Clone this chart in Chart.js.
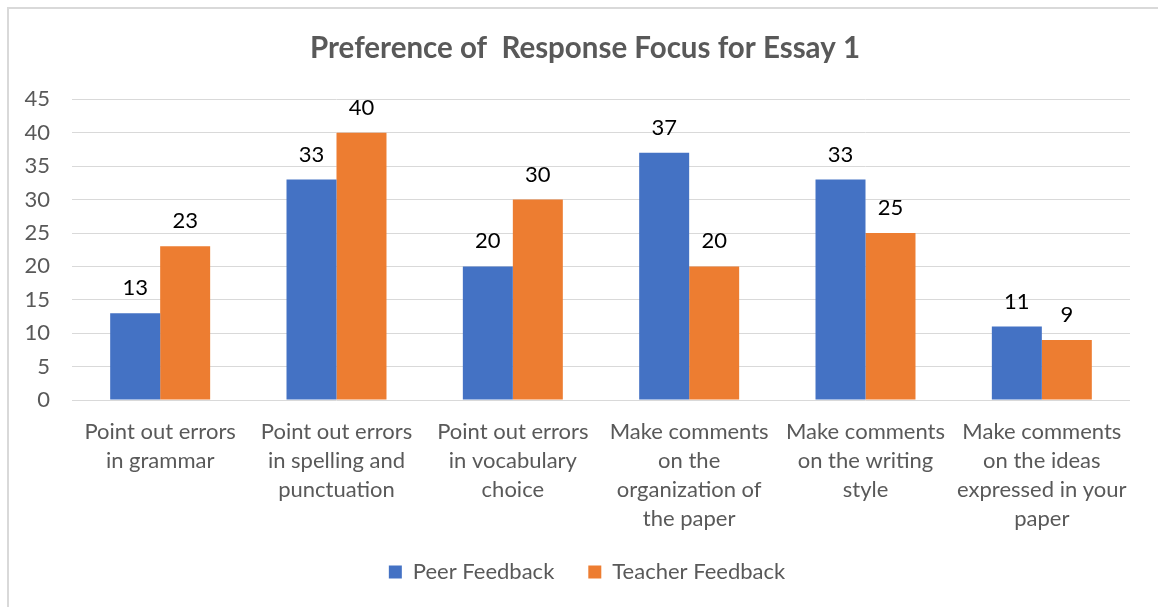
<!DOCTYPE html>
<html>
<head>
<meta charset="utf-8">
<script src="https://cdn.jsdelivr.net/npm/chart.js@4"></script>
<style>
  body { margin: 0; background: #fff; }
  .okvir { position: absolute; left: 7px; top: 7px; width: 1151px; height: 600px;
           border-left: 2px solid #d9d9d9; border-top: 2px solid #d9d9d9; }
  .kutija { position: absolute; left: 0; top: 0; width: 1158px; height: 607px; }
</style>
</head>
<body>
<div class="okvir"></div>
<div class="kutija"><canvas id="grafik"></canvas></div>
<script>
// podaci
const kategorije = [
  ["Point out errors", "in grammar"],
  ["Point out errors", "in spelling and", "punctuation"],
  ["Point out errors", "in vocabulary", "choice"],
  ["Make comments", "on the", "organization of", "the paper"],
  ["Make comments", "on the writing", "style"],
  ["Make comments", "on the ideas", "expressed in your", "paper"]
];
const peerFeedback = [13, 33, 20, 37, 33, 11];
const teacherFeedback = [23, 40, 30, 20, 25, 9];
const yTicks = [0, 5, 10, 15, 20, 25, 30, 35, 40, 45];

const sivaSlova = "#595959";
const font = "Lato, 'Open Sans', sans-serif";

// brojke iznad stubova
const brojkePlugin = {
  id: "brojke",
  afterDatasetsDraw(chart) {
    let ctx = chart.ctx;
    ctx.save();
    ctx.font = "22px " + font;
    ctx.fillStyle = "#000";
    ctx.textAlign = "center";
    ctx.textBaseline = "alphabetic";
    chart.data.datasets.forEach((ds, i) => {
      chart.getDatasetMeta(i).data.forEach((bar, j) => {
        ctx.fillText(ds.data[j], bar.x, bar.y - 18);
      });
    });
    ctx.restore();
  }
};

// naslov i legenda malo udesno (kao u originalu)
const pomeriPlugin = {
  id: "pomeri",
  afterLayout(chart) {
    let t = chart.titleBlock;
    t.left += 20; t.right += 20;
    let l = chart.legend;
    l.left += 22; l.right += 22;
    l.top -= 4; l.bottom -= 4;
  }
};

new Chart(document.getElementById("grafik"), {
  type: "bar",
  data: {
    labels: kategorije,
    datasets: [
      { label: "Peer Feedback", data: peerFeedback, backgroundColor: "#4472C4" },
      { label: "Teacher Feedback", data: teacherFeedback, backgroundColor: "#ED7D31" }
    ]
  },
  options: {
    responsive: true,
    maintainAspectRatio: false,
    animation: false,
    categoryPercentage: 0.567,
    barPercentage: 1.0,
    layout: { padding: { left: 0, right: 28, top: 0, bottom: 10 } },
    plugins: {
      title: {
        display: true,
        text: "Preference of  Response Focus for Essay 1",
        color: sivaSlova,
        font: { family: font, size: 29.5, weight: "bold" },
        padding: { top: 31, bottom: 33 }
      },
      legend: {
        position: "bottom",
        labels: {
          color: sivaSlova,
          font: { family: font, size: 22 },
          boxWidth: 13,
          boxHeight: 13,
          padding: 34
        }
      },
      tooltip: { enabled: false }
    },
    scales: {
      x: {
        grid: { display: false },
        border: { display: false },
        ticks: {
          color: sivaSlova,
          font: { family: font, size: 22, lineHeight: "29px" },
          maxRotation: 0,
          autoSkip: false,
          padding: 9
        },
        afterFit: s => { s.height = 131; }
      },
      y: {
        min: 0,
        max: 45,
        afterBuildTicks: s => { s.ticks = yTicks.map(v => ({ value: v })); },
        grid: { color: "#d9d9d9", lineWidth: 1, drawTicks: false },
        border: { display: false },
        ticks: {
          color: sivaSlova,
          font: { family: font, size: 22 },
          padding: 22
        },
        afterFit: s => { s.width = 72; }
      }
    }
  },
  plugins: [brojkePlugin, pomeriPlugin]
});
</script>
</body>
</html>
